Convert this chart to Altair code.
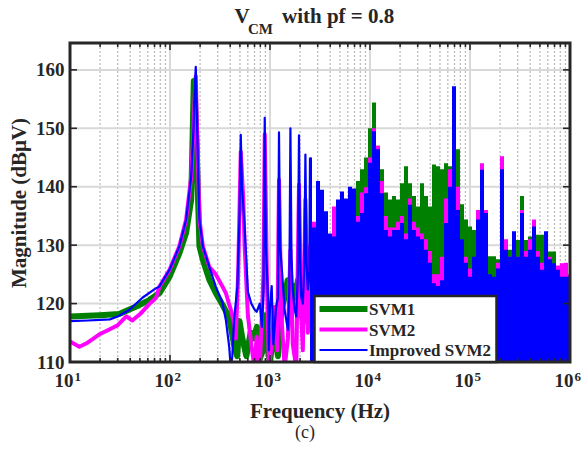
import altair as alt
import pandas as pd

# ---------------- data ----------------
# low-frequency part of each spectrum (drawn as lines)
SVM1_LINE_F = [10, 15, 20, 31, 46, 62, 78.5, 99, 124, 145, 163, 169, 173, 177, 182, 186, 190, 197, 213, 247,
               287, 335, 362, 391, 437, 470, 495, 530, 580, 640, 680, 740, 790, 850, 900, 950, 1000, 1100, 1200,
               1300, 1400, 1500, 1600, 1700, 1800, 1900, 2000, 2100, 2200, 2300, 2400, 2512]
SVM1_LINE_M = [117.8, 117.9, 118.0, 118.2, 119.5, 120.6, 121.8, 124.6, 128.6, 132.1, 137.8, 150, 158.1, 156, 150,
               145, 139, 129.8, 127.5, 124.1, 121.8, 119.8, 118.7, 117.6, 113, 111, 117, 114, 111, 115, 114, 116,
               110.5, 112, 118, 112, 110, 116, 111, 119, 121, 124, 120, 123, 121, 124, 118, 121, 117, 121, 123, 125]

SVM2_LINE_F = [10, 12.4, 15, 20, 25, 30, 36.6, 42, 51.6, 62, 72.5, 78.5, 99, 124, 145, 163, 172, 177, 181, 186,
               190, 197, 213, 247, 287, 335, 362, 391, 405, 437, 455, 480, 510, 540, 557, 601, 650, 700, 736, 790,
               830, 860, 886, 930, 975, 1040, 1100, 1180, 1230, 1300, 1400, 1510, 1600, 1690, 1830, 1950, 2050,
               2130, 2260, 2390, 2470, 2512]
SVM2_LINE_M = [113.5, 112.6, 113.3, 114.8, 115.6, 116.3, 117.8, 117.1, 118.4, 119.9, 121.0, 122.9, 125.8, 129.8,
               134.4, 141.8, 150, 156, 158.9, 150, 144.6, 134.4, 129.8, 126.3, 125.0, 122.9, 121.8, 119.8, 119.0,
               116.7, 114, 125, 146, 138, 130, 118, 113, 109, 114.3, 109, 118, 125, 149.0, 125, 109, 113, 119.4,
               112, 141.2, 118, 109, 114, 129.2, 113, 109, 140.4, 118, 112, 137.8, 115, 122, 130]

ISVM2_LINE_F = [10, 15, 20, 25, 30, 39, 53, 72, 78, 99, 124, 145, 163, 172, 177, 181, 186, 190, 197, 213, 247,
                287, 335, 362, 391, 405, 420, 437, 472, 495, 510, 525, 557, 601, 650, 700, 736, 790, 830, 860, 886,
                910, 953, 975, 1000, 1040, 1080, 1150, 1200, 1230, 1260, 1330, 1400, 1510, 1560, 1600, 1640, 1690,
                1760, 1830, 1900, 1950, 2000, 2050, 2130, 2200, 2260, 2320, 2390, 2470, 2512]
ISVM2_LINE_M = [117.0, 117.1, 117.2, 117.3, 117.8, 118.9, 121.0, 122.6, 122.9, 125.8, 129.8, 134.4, 141.8, 150.0,
                157.0, 160.5, 152.0, 144.6, 134.4, 129.8, 126.3, 122.9, 120.1, 117.2, 112.6, 109.0, 111.0, 117.2,
                122.9, 135, 148.9, 140, 133.2, 122.0, 120.0, 119.0, 118.6, 120.0, 116.0, 122, 151.8, 130, 121.2,
                112, 119.5, 123, 113, 119.4, 121, 149.3, 130, 124.6, 118.9, 115.5, 122, 150, 128, 122.4, 119, 117.8,
                125, 148.8, 128, 121.2, 120, 126, 145.5, 127, 122.4, 124.6, 145]

# dense high-frequency part (upper envelope, filled down)
ENV_F = [2512, 2754, 3020, 3311, 3631, 3981, 4365, 4786, 5248, 5754, 6310, 6918, 7586, 8318, 9120, 10000,
         10965, 12023, 13183, 14454, 15849, 17378, 19055, 20893, 22909, 25119, 27542, 30200, 33113, 36308,
         39811, 43652, 47863, 52481, 57544, 63096, 69183, 75858, 83176, 91201, 100000, 109648, 120226, 131826,
         144544, 158489, 173780, 190546, 208930, 229087, 251189, 275423, 301995, 331131, 363078, 398107,
         436516, 478630, 524807, 575440, 630957, 691831, 758578, 831764, 912011, 1000000]
SVM1_ENV = [125, 125, 126, 127, 128, 129, 130, 131, 132, 133,
            136, 137, 141, 143, 145, 150, 154.4, 147, 143, 139,
            137.8, 138.4, 137.8, 140.6, 143.5, 140.6, 138.4, 136.6, 140.6, 138.4,
            136.6, 143.8, 143.5, 143, 144, 143.5, 146.4, 146.4, 137, 134.4,
            133.2, 132.6, 130, 141.8, 135.5, 128.1, 128.1, 127.6, 141.8, 129.2,
            129.2, 130.9, 130.9, 138.4, 130.9, 131.5, 132.6, 131.8, 131.8, 131.8,
            128.9, 128.9, 126.3, 125.8, 124.6, 124]
SVM2_ENV = [130, 134, 134.4, 138, 133, 131, 136.6, 136, 134, 133,
            134, 136, 135, 139, 139.9, 145, 150, 147, 141, 135,
            133, 133, 134, 135, 132, 138, 134, 133, 132, 131,
            129, 125, 125, 128, 138, 143, 156, 140, 130, 128,
            126, 127, 136, 144, 136, 125, 124, 127, 145.2, 131,
            128, 131, 128, 136, 129, 131, 134.4, 129, 127, 131,
            128, 126, 126.5, 126.9, 127, 125]
ISVM2_ENV = [145, 133, 141, 139.5, 135.8, 132, 131.5, 137.8, 139.2, 138,
             140, 139.7, 134, 135.5, 138.9, 144.1, 149.5, 146.4, 138.9, 132.6,
             131.5, 132.6, 132.6, 133.8, 131, 136.9, 132.6, 131.5, 131, 129.2,
             127, 123.5, 123, 124, 133.8, 140, 157.2, 136, 131, 127,
             124.6, 128, 134.4, 142.9, 135.5, 125, 124.6, 126, 143, 129.2,
             128, 132.4, 128, 135.5, 128, 129.2, 133.2, 128, 125.8, 132.4,
             127.6, 126.9, 125.8, 124.6, 124.6, 124.6]

DECADES = [10, 100, 1000, 10000, 100000, 1000000]
DECADE_EXP = ["1", "2", "3", "4", "5", "6"]
MINOR = [m * 10 ** e for e in range(1, 6) for m in range(2, 10)]
Y_TICKS = [110, 120, 130, 140, 150, 160]
Y_GRID = [120, 130, 140, 150, 160]
SERIES = ["SVM1", "SVM2", "Improved SVM2"]
COLORS = ["#008000", "#ff00ff", "#0000ff"]
WIDTHS = [6, 4, 2.2]

# ---------------- layout ----------------
W, H = 500, 319
SERIF = "Liberation Serif"
INK = "#262626"
XS = alt.Scale(type="log", domain=[10, 1000000], nice=False)
YS = alt.Scale(domain=[110, 164.6], nice=False, zero=False)
YAXIS = alt.Axis(
    values=Y_TICKS, grid=False, ticks=False, domain=False,
    labelFont=SERIF, labelFontWeight="bold", labelFontSize=19, labelColor=INK, labelPadding=6,
    title="Magnitude (dBμV)", titleFont=SERIF, titleFontWeight="bold", titleFontSize=21,
    titleColor=INK, titlePadding=6)


def xe():
    return alt.X("f:Q", scale=XS, axis=None)


def ye():
    return alt.Y("m:Q", scale=YS, axis=YAXIS)


layers = []

# grid
layers.append(alt.Chart(pd.DataFrame({"f": MINOR})).mark_rule(
    color="#bdbdbd", strokeWidth=1.3, strokeDash=[2, 2]).encode(x=xe()))
layers.append(alt.Chart(pd.DataFrame({"f": DECADES})).mark_rule(
    color="#d9d9d9", strokeWidth=2).encode(x=xe()))
layers.append(alt.Chart(pd.DataFrame({"m": Y_GRID})).mark_rule(
    color="#d9d9d9", strokeWidth=2).encode(y=ye()))

line_data = [(SVM1_LINE_F, SVM1_LINE_M, SVM1_ENV),
             (SVM2_LINE_F, SVM2_LINE_M, SVM2_ENV),
             (ISVM2_LINE_F, ISVM2_LINE_M, ISVM2_ENV)]
for (lf, lm, env), col, wd in zip(line_data, COLORS, WIDTHS):
    layers.append(alt.Chart(pd.DataFrame({"f": ENV_F, "m": env})).mark_area(
        color=col, interpolate="step", clip=True, opacity=1).encode(
        x=xe(), y=ye(), y2=alt.value(H)))
    layers.append(alt.Chart(pd.DataFrame({"f": lf, "m": lm})).mark_line(
        color=col, strokeWidth=wd, clip=True, strokeJoin="round").encode(x=xe(), y=ye()))

# ticks (inward, all four sides)
dmaj = pd.DataFrame({"f": DECADES})
dmin = pd.DataFrame({"f": MINOR})
dyt = pd.DataFrame({"m": Y_TICKS})
tk = dict(color=INK, strokeWidth=1.6)
layers += [
    alt.Chart(dmaj).mark_rule(**tk).encode(x=xe(), y=alt.value(0), y2=alt.value(7)),
    alt.Chart(dmaj).mark_rule(**tk).encode(x=xe(), y=alt.value(H), y2=alt.value(H - 7)),
    alt.Chart(dmin).mark_rule(**tk).encode(x=xe(), y=alt.value(0), y2=alt.value(4)),
    alt.Chart(dmin).mark_rule(**tk).encode(x=xe(), y=alt.value(H), y2=alt.value(H - 4)),
    alt.Chart(dyt).mark_rule(**tk).encode(y=ye(), x=alt.value(0), x2=alt.value(7)),
    alt.Chart(dyt).mark_rule(**tk).encode(y=ye(), x=alt.value(W - 7), x2=alt.value(W)),
]

# frame
one = pd.DataFrame({"a": [0]})
layers.append(alt.Chart(one).mark_rect(filled=False, stroke=INK, strokeWidth=3).encode(
    x=alt.value(0), x2=alt.value(W), y=alt.value(0), y2=alt.value(H)))

# x tick labels 10^n
dlab = pd.DataFrame({"f": DECADES, "e": DECADE_EXP, "b": ["10"] * len(DECADES)})
layers.append(alt.Chart(dlab).mark_text(
    font=SERIF, fontWeight="bold", fontSize=19, color=INK, align="right", baseline="alphabetic", dx=3.5).encode(
    x=xe(), y=alt.value(H + 25), text="b:N"))
layers.append(alt.Chart(dlab).mark_text(
    font=SERIF, fontWeight="bold", fontSize=13, color=INK, align="left", baseline="alphabetic", dx=4.5).encode(
    x=xe(), y=alt.value(H + 19), text="e:N"))

# x title and panel tag
layers.append(alt.Chart(pd.DataFrame({"t": ["Frequency (Hz)"]})).mark_text(
    font=SERIF, fontWeight="bold", fontSize=21, color=INK, align="center", baseline="alphabetic").encode(
    x=alt.value(W / 2), y=alt.value(H + 56), text="t:N"))
layers.append(alt.Chart(pd.DataFrame({"t": ["(c)"]})).mark_text(
    font=SERIF, fontSize=18, color=INK, align="center", baseline="alphabetic").encode(
    x=alt.value(235), y=alt.value(H + 76), text="t:N"))

# title V_CM with pf = 0.8
layers.append(alt.Chart(pd.DataFrame({"t": ["V"]})).mark_text(
    font=SERIF, fontWeight="bold", fontSize=21, color=INK, align="left", baseline="alphabetic").encode(
    x=alt.value(164.5), y=alt.value(-20), text="t:N"))
layers.append(alt.Chart(pd.DataFrame({"t": ["CM"]})).mark_text(
    font=SERIF, fontWeight="bold", fontSize=15, color=INK, align="left", baseline="alphabetic").encode(
    x=alt.value(178), y=alt.value(-9), text="t:N"))
layers.append(alt.Chart(pd.DataFrame({"t": ["with pf = 0.8"]})).mark_text(
    font=SERIF, fontWeight="bold", fontSize=21, color=INK, align="left", baseline="alphabetic").encode(
    x=alt.value(212), y=alt.value(-20), text="t:N"))

# legend
layers.append(alt.Chart(one).mark_rect(fill="white", stroke=INK, strokeWidth=2.5).encode(
    x=alt.value(244.5), x2=alt.value(426.5), y=alt.value(253), y2=alt.value(319)))
for name, col, wd, yc in zip(SERIES, COLORS, WIDTHS, [266, 286.5, 307]):
    layers.append(alt.Chart(one).mark_rule(color=col, strokeWidth=wd).encode(
        x=alt.value(249.5), x2=alt.value(297.5), y=alt.value(yc)))
    layers.append(alt.Chart(pd.DataFrame({"t": [name]})).mark_text(
        font=SERIF, fontWeight="bold", fontSize=17, color=INK, align="left", baseline="middle").encode(
        x=alt.value(299), y=alt.value(yc + 1), text="t:N"))

chart = alt.layer(*layers).properties(
    width=W, height=H,
    padding={"left": 70, "top": 43, "right": 11, "bottom": 89},
    autosize=alt.AutoSizeParams(type="none"),
).configure_view(stroke=None).configure(background="white")

chart.save("out.html", embed_options={"renderer": "svg", "actions": False})
